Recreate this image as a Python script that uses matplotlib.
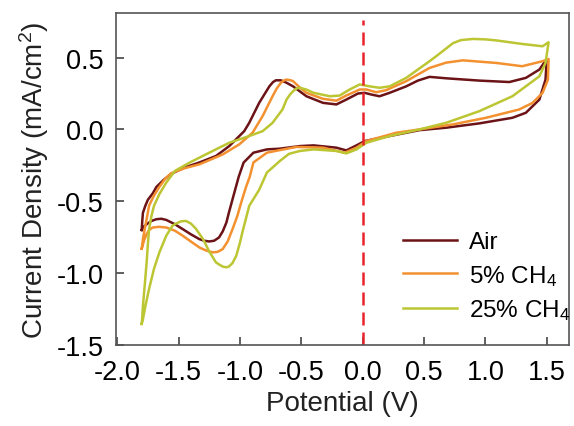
import numpy as np
import matplotlib
matplotlib.use("Agg")
import matplotlib.pyplot as plt

plt.rcParams['font.family'] = ['Liberation Sans', 'DejaVu Sans']
plt.rcParams['mathtext.default'] = 'regular'
plt.rcParams['axes.unicode_minus'] = False

# Air: forward scan then reverse scan (V, mA/cm2)
air_v = [-1.80, -1.795, -1.79, -1.77, -1.75, -1.71, -1.68, -1.62, -1.56, -1.50, -1.45,
         -1.33, -1.195, -1.087, -0.965, -0.924, -0.843, -0.76, -0.73, -0.707, -0.667,
         -0.62, -0.567, -0.458, -0.323, -0.214, -0.133, -0.038, 0.016, 0.07, 0.138,
         0.22, 0.355, 0.45, 0.545, 0.68, 0.95, 1.195, 1.33, 1.44, 1.50,
         1.49, 1.44, 1.33, 1.22, 0.95, 0.68, 0.463, 0.22, 0.016, -0.05, -0.133,
         -0.214, -0.40, -0.512, -0.675, -0.78, -0.89, -0.97, -1.01, -1.06, -1.09, -1.11,
         -1.14, -1.17, -1.21, -1.25, -1.29, -1.33, -1.40, -1.466, -1.53, -1.60, -1.64,
         -1.68, -1.72, -1.76, -1.785, -1.80]
air_j = [-0.70, -0.63, -0.58, -0.53, -0.49, -0.445, -0.40, -0.35, -0.31, -0.285, -0.265,
         -0.23, -0.185, -0.116, -0.012, 0.046, 0.185, 0.30, 0.33, 0.342, 0.342,
         0.325, 0.30, 0.231, 0.185, 0.174, 0.208, 0.25, 0.255, 0.243, 0.231,
         0.255, 0.30, 0.34, 0.366, 0.356, 0.34, 0.33, 0.359, 0.417, 0.49,
         0.347, 0.208, 0.116, 0.081, 0.042, 0.012, -0.005, -0.046, -0.081, -0.111, -0.146,
         -0.127, -0.111, -0.116, -0.134, -0.139, -0.162, -0.231, -0.33, -0.486, -0.58, -0.648,
         -0.71, -0.752, -0.775, -0.78, -0.775, -0.764, -0.73, -0.694, -0.66, -0.63, -0.622,
         -0.625, -0.637, -0.66, -0.68, -0.70]

ch4_5_v = [-1.80, -1.795, -1.79, -1.775, -1.76, -1.74, -1.70, -1.656, -1.61, -1.56, -1.45,
           -1.33, -1.14, -1.005, -0.897, -0.815, -0.734, -0.70, -0.667, -0.64, -0.62,
           -0.59, -0.567, -0.51, -0.458, -0.323, -0.214, -0.133, -0.024, 0.03, 0.11,
           0.19, 0.355, 0.545, 0.68, 0.816, 1.087, 1.30, 1.466, 1.515,
           1.51, 1.466, 1.385, 1.276, 1.005, 0.735, 0.463, 0.274, 0.03, -0.05, -0.146,
           -0.323, -0.54, -0.675, -0.78, -0.89, -0.92, -0.95, -0.99, -1.02, -1.06, -1.10,
           -1.14, -1.18, -1.22, -1.27, -1.33, -1.40, -1.466, -1.53, -1.60, -1.66, -1.71,
           -1.74, -1.76, -1.78, -1.80]
ch4_5_j = [-0.83, -0.80, -0.764, -0.69, -0.625, -0.53, -0.46, -0.40, -0.345, -0.305, -0.27,
           -0.243, -0.174, -0.104, -0.023, 0.093, 0.231, 0.285, 0.324, 0.342, 0.347,
           0.343, 0.336, 0.29, 0.255, 0.213, 0.20, 0.236, 0.278, 0.278, 0.259,
           0.273, 0.336, 0.428, 0.465, 0.481, 0.463, 0.44, 0.475, 0.49,
           0.347, 0.255, 0.185, 0.139, 0.081, 0.035, 0.0, -0.023, -0.081, -0.127, -0.162,
           -0.127, -0.122, -0.144, -0.162, -0.23, -0.33, -0.40, -0.51, -0.60, -0.694, -0.78,
           -0.833, -0.852, -0.856, -0.845, -0.822, -0.78, -0.74, -0.705, -0.683, -0.678, -0.683,
           -0.70, -0.729, -0.77, -0.83]

ch4_25_v = [-1.80, -1.795, -1.79, -1.775, -1.76, -1.75, -1.74, -1.72, -1.70, -1.656, -1.60,
            -1.53, -1.41, -1.25, -1.087, -0.924, -0.815, -0.734, -0.653, -0.62, -0.59,
            -0.567, -0.54, -0.512, -0.46, -0.40, -0.268, -0.187, -0.106, -0.024, 0.057,
            0.138, 0.22, 0.355, 0.545, 0.60, 0.66, 0.735, 0.80, 0.90, 1.0, 1.087, 1.30,
            1.466, 1.515,
            1.49, 1.44, 1.22, 0.95, 0.68, 0.463, 0.22, 0.03, -0.05, -0.133, -0.214,
            -0.40, -0.512, -0.60, -0.675, -0.78, -0.843, -0.924, -0.98, -1.00, -1.03, -1.06,
            -1.09, -1.11, -1.14, -1.17, -1.195, -1.25, -1.30, -1.36, -1.40, -1.44, -1.48,
            -1.52, -1.55, -1.60, -1.656, -1.70, -1.74, -1.77, -1.79, -1.80]
ch4_25_j = [-1.354, -1.30, -1.227, -1.08, -0.926, -0.80, -0.694, -0.60, -0.532, -0.45, -0.37,
            -0.289, -0.231, -0.162, -0.093, -0.046, -0.012, 0.046, 0.139, 0.208, 0.245,
            0.266, 0.285, 0.29, 0.278, 0.255, 0.231, 0.236, 0.278, 0.313, 0.30,
            0.29, 0.30, 0.359, 0.475, 0.51, 0.55, 0.60, 0.622, 0.63, 0.627, 0.62, 0.595,
            0.579, 0.607,
            0.463, 0.37, 0.231, 0.127, 0.046, 0.0, -0.046, -0.093, -0.139, -0.167, -0.15,
            -0.139, -0.15, -0.17, -0.22, -0.30, -0.42, -0.532, -0.717, -0.79, -0.88, -0.93,
            -0.955, -0.96, -0.955, -0.94, -0.926, -0.85, -0.764, -0.69, -0.655, -0.637, -0.64,
            -0.655, -0.671, -0.74, -0.856, -0.97, -1.11, -1.23, -1.32, -1.354]

fig = plt.figure(figsize=(5.74, 4.27), dpi=100)
ax = fig.add_axes([0.202, 0.19, 0.789, 0.777])

ax.plot(air_v, air_j, color='#6b1316', lw=1.8, label='Air')
ax.plot(ch4_5_v, ch4_5_j, color='#f39130', lw=1.8, label='5% CH$_4$')
ax.plot(ch4_25_v, ch4_25_j, color='#bcc633', lw=1.8, label='25% CH$_4$')
ax.axvline(0.0, ymax=0.98, color='#e8232a', lw=1.8, dashes=(5.2, 2.8))

ax.set_xlim(-2.01, 1.68)
ax.set_ylim(-1.5, 0.81)
ax.set_xticks(np.arange(-2.0, 1.51, 0.5))
ax.set_yticks(np.arange(-1.5, 0.51, 0.5))
ax.xaxis.set_major_formatter(matplotlib.ticker.FormatStrFormatter('%.1f'))
ax.yaxis.set_major_formatter(matplotlib.ticker.FormatStrFormatter('%.1f'))
ax.tick_params(direction='in', length=6, width=1.2, color='#444444', labelsize=19.5)
ax.tick_params(axis='x', pad=10)
ax.tick_params(axis='y', pad=9)
for s in ax.spines.values():
    s.set_color('#555555')
    s.set_linewidth(1.2)

ax.set_xlabel('Potential (V)', fontsize=20, color='#222222', labelpad=4)
ax.set_ylabel('Current Density (mA/cm$^2$)', fontsize=20, color='#222222', labelpad=4)

ax.legend(loc='upper left', bbox_to_anchor=(0.634, 0.343), frameon=False,
          fontsize=17.5, handlelength=2.2, handletextpad=0.5,
          borderpad=0, borderaxespad=0, labelspacing=0.4)

fig.savefig('out.png', dpi=100)
